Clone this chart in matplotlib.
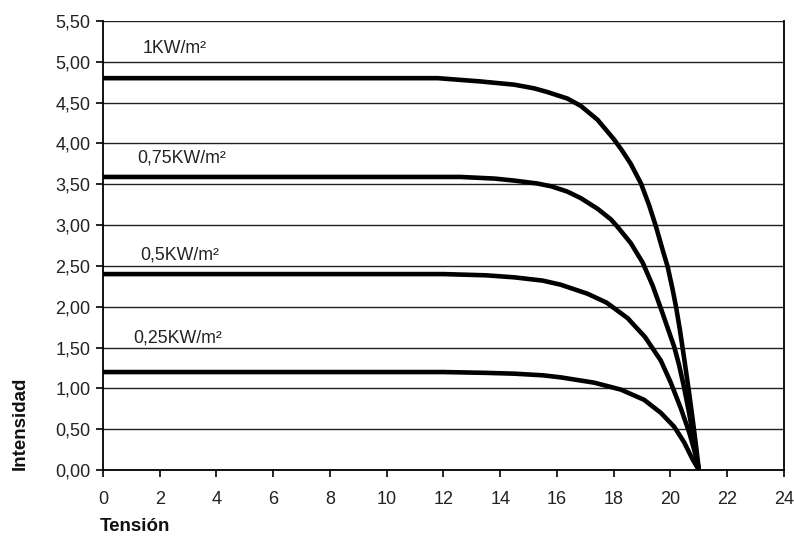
import numpy as np
import matplotlib
matplotlib.use("Agg")
import matplotlib.pyplot as plt
from matplotlib.ticker import FuncFormatter

plt.rcParams['font.family'] = ['Liberation Sans', 'DejaVu Sans']

# curves (tension V, intensidad A)
v_1000 = [0, 11.8, 13.3, 14.5, 15.2, 15.66, 16.37, 16.84, 17.43, 18.01, 18.3, 18.6, 18.96,
          19.25, 19.49, 19.72, 19.9, 20.07, 20.2, 20.33, 20.48, 20.65, 20.8, 20.92, 21.0]
i_1000 = [4.80, 4.80, 4.76, 4.72, 4.675, 4.63, 4.55, 4.46, 4.29, 4.05, 3.91, 3.75, 3.51,
          3.24, 2.98, 2.70, 2.49, 2.22, 1.99, 1.72, 1.37, 0.96, 0.57, 0.24, 0.0]

v_750 = [0, 12.6, 13.8, 14.5, 15.3, 15.8, 16.37, 16.84, 17.43, 17.9, 18.13, 18.6, 19.02,
         19.37, 19.66, 19.9, 20.13, 20.3, 20.48, 20.66, 20.82, 21.0]
i_750 = [3.59, 3.59, 3.57, 3.545, 3.51, 3.475, 3.41, 3.33, 3.20, 3.07, 2.98, 2.78, 2.54,
         2.26, 1.98, 1.74, 1.51, 1.29, 1.01, 0.69, 0.37, 0.0]

v_500 = [0, 12.0, 13.5, 14.5, 15.5, 16.13, 17.07, 17.75, 18.49, 19.1, 19.66, 20.01,
         20.37, 20.66, 20.85, 21.0]
i_500 = [2.40, 2.40, 2.385, 2.36, 2.32, 2.27, 2.16, 2.05, 1.86, 1.63, 1.34, 1.07,
         0.75, 0.46, 0.23, 0.0]

v_250 = [0, 12.0, 13.5, 14.5, 15.5, 16.13, 17.31, 18.25, 19.07, 19.66, 20.13, 20.48,
         20.78, 21.0]
i_250 = [1.20, 1.20, 1.19, 1.18, 1.16, 1.135, 1.07, 0.985, 0.86, 0.70, 0.53, 0.34,
         0.13, 0.0]

curve_labels = ["1KW/m²", "0,75KW/m²", "0,5KW/m²", "0,25KW/m²"]
label_pos = [(1.4, 5.16), (1.2, 3.82), (1.3, 2.63), (1.05, 1.62)]

xticks = np.arange(0, 25, 2)
yticks = np.arange(0, 5.51, 0.5)

fig = plt.figure(figsize=(7.94, 5.39), dpi=100)
ax = fig.add_axes([0.1297, 0.128, 0.8577, 0.833])

for yy in yticks:
    ax.axhline(yy, color='#222222', lw=1.0, zorder=1)

for v, i in [(v_1000, i_1000), (v_750, i_750), (v_500, i_500), (v_250, i_250)]:
    ax.plot(v, i, color='black', lw=3.3, solid_capstyle='butt',
            solid_joinstyle='round', zorder=3)

for txt, (x, y) in zip(curve_labels, label_pos):
    ax.text(x, y, txt, fontsize=12.8, ha='left', va='center', color='#222222')

ax.set_xlim(0, 24)
ax.set_ylim(0, 5.5)
ax.set_xticks(xticks)
ax.set_yticks(yticks)
ax.yaxis.set_major_formatter(FuncFormatter(lambda y, p: ("%.2f" % y).replace('.', ',')))
ax.tick_params(direction='out', length=5, width=1.2, labelsize=13, colors='black',
               labelcolor='#222222')
ax.tick_params(axis='x', pad=10)
ax.tick_params(axis='y', pad=4)
ax.spines['top'].set_visible(False)
for s in ['left', 'bottom', 'right']:
    ax.spines[s].set_linewidth(1.3)

fig.text(0.026, 0.128, "Intensidad", rotation=90, fontsize=13.5, fontweight='bold',
         ha='center', va='bottom', color='#111111')
fig.text(0.125, 0.008, "Tensión", fontsize=13.5, fontweight='bold', ha='left',
         va='bottom', color='#111111')

fig.savefig("out.png", dpi=100)
